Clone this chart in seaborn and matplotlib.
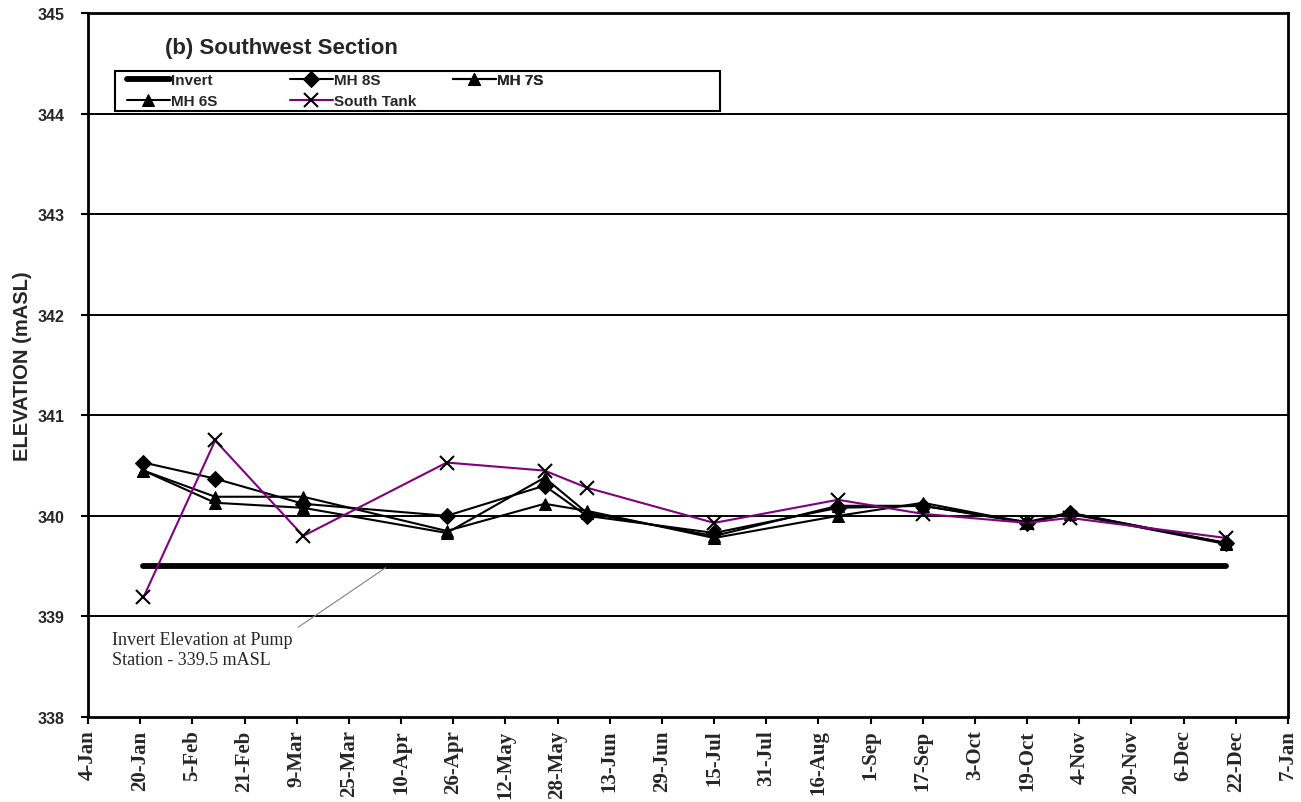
import pandas as pd
import numpy as np
import matplotlib
matplotlib.use("Agg")
import matplotlib.pyplot as plt
import seaborn as sns
from matplotlib.patches import Rectangle

# Survey dates and water levels (mASL)
dates = pd.to_datetime(["2005-01-21", "2005-02-12", "2005-03-11", "2005-04-24",
                        "2005-05-24", "2005-06-06", "2005-07-15", "2005-08-22",
                        "2005-09-17", "2005-10-19", "2005-11-01", "2005-12-19"])
invert = [339.5] * 12
mh_8s = [340.53, 340.37, 340.12, 340.00, 340.30, 340.00, 339.83, 340.08, 340.10, 339.93, 340.03, 339.73]
mh_7s = [340.45, 340.19, 340.19, 339.85, 340.12, 340.05, 339.78, 340.00, 340.13, 339.93, 340.02, 339.72]
mh_6s = [340.45, 340.13, 340.08, 339.83, 340.38, 340.03, 339.80, 340.10, 340.10, 339.94, 340.03, 339.73]
south_tank = [339.19, 340.75, 339.80, 340.53, 340.45, 340.28, 339.93, 340.16, 340.02, 339.93, 339.98, 339.78]

tick_dates = pd.date_range("2005-01-04", "2006-01-07", freq="16D")
tick_labels = ["4-Jan", "20-Jan", "5-Feb", "21-Feb", "9-Mar", "25-Mar", "10-Apr", "26-Apr",
               "12-May", "28-May", "13-Jun", "29-Jun", "15-Jul", "31-Jul", "16-Aug", "1-Sep",
               "17-Sep", "3-Oct", "19-Oct", "4-Nov", "20-Nov", "6-Dec", "22-Dec", "7-Jan"]
y_ticks = [338, 339, 340, 341, 342, 343, 344, 345]

sns.set_style("white")
plt.rcParams['font.family'] = ['Liberation Sans', 'DejaVu Sans']

fig = plt.figure(figsize=(13.01, 8.03), dpi=100)
ax = fig.add_axes([88 / 1301, 85 / 803, 1200 / 1301, 704 / 803])

for y in y_ticks[1:-1]:
    ax.axhline(y, color="black", lw=1.4, zorder=0)

sns.lineplot(x=dates, y=invert, ax=ax, color="black", lw=4.2, label="Invert",
             solid_capstyle="round")
sns.lineplot(x=dates, y=mh_8s, ax=ax, color="black", lw=1.5, marker="D", ms=8,
             markeredgecolor="black", label="MH 8S")
sns.lineplot(x=dates, y=mh_7s, ax=ax, color="black", lw=1.5, marker="^", ms=9,
             markeredgecolor="black", label="MH 7S")
sns.lineplot(x=dates, y=mh_6s, ax=ax, color="black", lw=1.5, marker="^", ms=9,
             markeredgecolor="black", label="MH 6S")
sns.lineplot(x=dates, y=south_tank, ax=ax, color="#800080", lw=1.5, marker="x", ms=10,
             markeredgecolor="black", mew=1.5, label="South Tank")

ax.set_xlim(tick_dates[0], tick_dates[-1])
ax.set_ylim(338, 345)
ax.set_xticks(tick_dates)
ax.set_xticklabels(tick_labels, rotation=90, fontsize=15, fontweight="bold",
                   family="Liberation Serif")
ax.set_yticks(y_ticks)
ax.set_yticklabels([str(v) for v in y_ticks], fontsize=11.5, fontweight="bold")
ax.tick_params(axis="both", direction="out", length=5, width=1.5, color="black",
               bottom=True, left=True)
ax.tick_params(axis="y", pad=12)
ax.tick_params(axis="x", pad=4)
for s in ax.spines.values():
    s.set_color("black")
    s.set_linewidth(2)
ax.set_xlabel("")
ax.set_ylabel("ELEVATION (mASL)", fontsize=14.5, fontweight="bold", labelpad=4)

ax.text(0.064, 0.951, "(b) Southwest Section", transform=ax.transAxes,
        fontsize=16, fontweight="bold", va="center")

# legend: Excel-style box with three fixed-width columns
handles, labels = ax.get_legend_handles_labels()
box = Rectangle((27 / 1200, 606 / 704), 605 / 1200, 40 / 704, transform=ax.transAxes,
                fill=True, facecolor="white", edgecolor="black", lw=1.5, zorder=5)
ax.add_patch(box)
columns = [([0, 3], 127), ([1, 4], 290), ([2], 453)]
for idx, xpix in columns:
    leg = ax.legend([handles[i] for i in idx], [labels[i] for i in idx], ncol=1,
                    loc="upper left", bbox_to_anchor=((xpix - 88) / 1200, 644 / 704),
                    frameon=False, borderpad=0, borderaxespad=0, labelspacing=0.45,
                    handlelength=2.8, handletextpad=0.1,
                    prop={"weight": "bold", "size": 11})
    leg.set_zorder(6)
    ax.add_artist(leg)

ax.annotate("Invert Elevation at Pump\nStation - 339.5 mASL",
            xy=(pd.Timestamp("2005-04-06"), 339.5), xytext=(0.02, 0.122),
            textcoords="axes fraction", family="Liberation Serif", fontsize=13,
            va="top", ha="left",
            arrowprops=dict(arrowstyle="-", color="gray", lw=0.8,
                            relpos=(0.94, 0.8)))

fig.savefig("out.png", dpi=100)
